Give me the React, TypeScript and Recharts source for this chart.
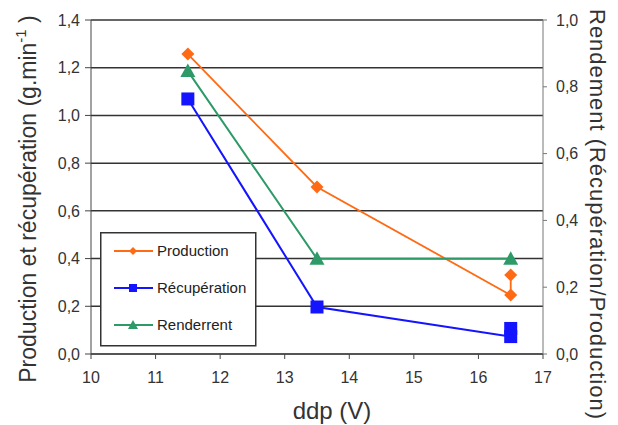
import React from 'react';
import { ComposedChart, Line, XAxis, YAxis, CartesianGrid } from 'recharts';

const xTicks = [10, 11, 12, 13, 14, 15, 16, 17];
const leftTicks = [0, 0.2, 0.4, 0.6, 0.8, 1.0, 1.2, 1.4];
const rightTicks = [0, 0.2, 0.4, 0.6, 0.8, 1.0];

const production = [
  { x: 11.5, y: 1.257 },
  { x: 13.5, y: 0.70 },
  { x: 16.5, y: 0.247 },
  { x: 16.5, y: 0.331 },
];
const recuperation = [
  { x: 11.5, y: 1.069 },
  { x: 13.5, y: 0.197 },
  { x: 16.5, y: 0.073 },
  { x: 16.5, y: 0.107 },
];
const rendement = [
  { x: 11.5, y: 0.847 },
  { x: 13.5, y: 0.285 },
  { x: 16.5, y: 0.285 },
];

const ORANGE = '#ff6a14';
const BLUE = '#1414ff';
const GREEN = '#2e9a68';
const FONT = '"Liberation Sans", Arial, sans-serif';

const fmt = (v: number) => v.toFixed(1).replace('.', ',');

const Diamond = (props: any) => {
  const { cx, cy } = props;
  if (cx == null || cy == null) return null;
  const r = 6.5;
  return <path d={`M${cx},${cy - r}L${cx + r},${cy}L${cx},${cy + r}L${cx - r},${cy}Z`} fill={ORANGE} />;
};
const Square = (props: any) => {
  const { cx, cy } = props;
  if (cx == null || cy == null) return null;
  const r = 6.5;
  return <rect x={cx - r} y={cy - r} width={2 * r} height={2 * r} fill={BLUE} />;
};
const Tri = (props: any) => {
  const { cx, cy } = props;
  if (cx == null || cy == null) return null;
  const r = 7.5;
  return <path d={`M${cx},${cy - r}L${cx + r},${cy + r * 0.8}L${cx - r},${cy + r * 0.8}Z`} fill={GREEN} />;
};

const legendItems = [
  { name: 'Production', color: ORANGE, shape: 'diamond' },
  { name: 'Récupération', color: BLUE, shape: 'square' },
  { name: 'Renderrent', color: GREEN, shape: 'triangle' },
];

const LegendBox = () => (
  <svg width={157} height={115} style={{ display: 'block' }}>
    <rect x={0.75} y={0.75} width={155} height={113} fill="#fff" stroke="#333" strokeWidth={1.5} />
    {legendItems.map((it, i) => {
      const cy = 19 + i * 37;
      const cx = 33;
      let marker;
      if (it.shape === 'diamond') marker = <path d={`M${cx},${cy - 4}L${cx + 4},${cy}L${cx},${cy + 4}L${cx - 4},${cy}Z`} fill={it.color} />;
      else if (it.shape === 'square') marker = <rect x={cx - 4} y={cy - 4} width={8} height={8} fill={it.color} />;
      else marker = <path d={`M${cx},${cy - 5}L${cx + 5},${cy + 4}L${cx - 5},${cy + 4}Z`} fill={it.color} />;
      return (
        <g key={it.name}>
          <line x1={14} x2={53} y1={cy} y2={cy} stroke={it.color} strokeWidth={2} />
          {marker}
          <text x={57} y={cy + 5} fontSize={15} fontFamily={FONT} fill="#222">{it.name}</text>
        </g>
      );
    })}
  </svg>
);

export default function App() {
  return (
    <div style={{ position: 'absolute', left: 0, top: 0, width: 618, height: 425, background: '#fff' }}>
      <ComposedChart width={618} height={425} margin={{ top: 20, right: 0, bottom: 0, left: 0 }}>
        <CartesianGrid yAxisId="left" vertical={false} stroke="#333" strokeWidth={1.5} horizontalValues={leftTicks} />
        <XAxis
          type="number"
          dataKey="x"
          domain={[10, 17]}
          ticks={xTicks}
          height={71}
          tickSize={5}
          tickMargin={13}
          stroke="#444"
          tick={{ fontSize: 16, fontFamily: FONT, fill: '#333' }}
          label={(p: any) => (
            <text x={332} y={419} textAnchor="middle" fontSize={24} fontFamily={FONT} fill="#333">ddp (V)</text>
          )}
          allowDuplicatedCategory={false}
        />
        <YAxis
          yAxisId="left"
          type="number"
          domain={[0, 1.4]}
          ticks={leftTicks}
          width={91}
          tickSize={6}
          tickMargin={5}
          stroke="#444"
          tickFormatter={fmt}
          tick={{ fontSize: 16, fontFamily: FONT, fill: '#333' }}
          label={(p: any) => (
            <text transform="translate(36,199) rotate(-90)" textAnchor="middle" fontSize={23} fontFamily={FONT} fill="#333">
              Production et récupération (g.min<tspan dy={-10} fontSize={15}>-1</tspan><tspan dy={10}> )</tspan>
            </text>
          )}
        />
        <YAxis
          yAxisId="right"
          orientation="right"
          type="number"
          domain={[0, 1]}
          ticks={rightTicks}
          width={75}
          tickSize={4}
          tickMargin={9}
          stroke="#777"
          tickFormatter={fmt}
          tick={{ fontSize: 16, fontFamily: FONT, fill: '#333' }}
          label={(p: any) => (
            <text transform="translate(590,214) rotate(90)" textAnchor="middle" fontSize={22} fontFamily={FONT} fill="#333"
              textLength={410} lengthAdjust="spacing">
              Rendement (Récupération/Production)
            </text>
          )}
        />
        <Line yAxisId="left" data={production} dataKey="y" stroke={ORANGE} strokeWidth={1.8} dot={<Diamond />} activeDot={false} isAnimationActive={false} />
        <Line yAxisId="left" data={recuperation} dataKey="y" stroke={BLUE} strokeWidth={2} dot={<Square />} activeDot={false} isAnimationActive={false} />
        <Line yAxisId="right" data={rendement} dataKey="y" stroke={GREEN} strokeWidth={2} dot={<Tri />} activeDot={false} isAnimationActive={false} />
      </ComposedChart>
      <div style={{ position: 'absolute', left: 100, top: 232 }}>
        <LegendBox />
      </div>
    </div>
  );
}
